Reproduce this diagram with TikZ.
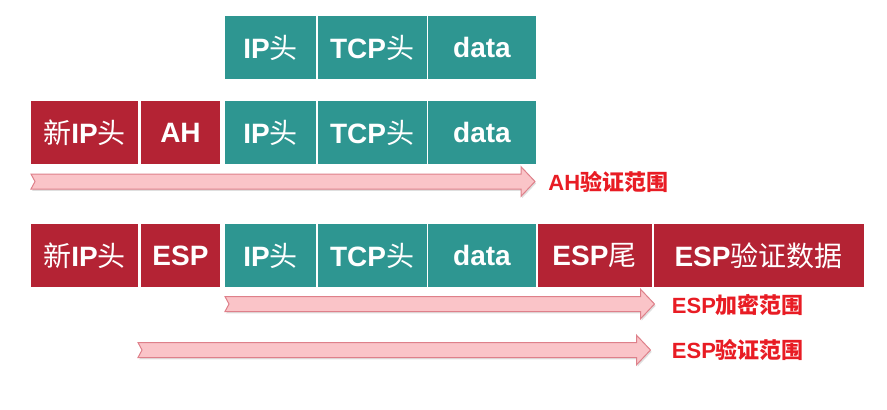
\documentclass[tikz,border=0pt]{standalone}
\usepackage{fontspec}
\setmainfont{Liberation Sans}
\newfontfamily\cjk{Noto Sans CJK SC}
\usepackage{xcolor}
\usetikzlibrary{positioning, calc, shadows}
\definecolor{hdrred}{RGB}{180,35,52}
\definecolor{hdrteal}{RGB}{46,150,145}
\definecolor{rangefill}{RGB}{250,196,200}
\definecolor{rangeedge}{RGB}{222,128,138}
\definecolor{lblred}{RGB}{232,28,36}
\newcommand{\zh}[1]{{\cjk\mdseries #1}}
\tikzstyle{hdr} = [rectangle, minimum height=31.5pt, inner sep=0pt, outer sep=0pt, text=white, font=\fontsize{14}{16}\selectfont\bfseries]
\tikzstyle{redhdr} = [hdr, fill=hdrred]
\tikzstyle{tealhdr} = [hdr, fill=hdrteal]
\tikzstyle{rangearrow} = [fill=rangefill, draw=rangeedge, line width=0.5pt, line join=miter, drop shadow={shadow xshift=0.6pt, shadow yshift=-0.9pt, opacity=0.25}]
\tikzstyle{rangelbl} = [anchor=west, inner sep=0pt, text=lblred, font=\fontsize{11}{13}\selectfont\bfseries]
% notched band with a head, from #1 to #2
\newcommand{\rangeband}[2]{%
  \path[rangearrow] ($(#1)+(0,3.75pt)$) -- ($(#2)+(-7pt,3.75pt)$) -- ($(#2)+(-7pt,7.4pt)$) -- (#2)
    -- ($(#2)+(-7pt,-7.4pt)$) -- ($(#2)+(-7pt,-3.75pt)$) -- ($(#1)+(0,-3.75pt)$) -- ($(#1)+(2pt,0)$) -- cycle;}

\begin{document}
\begin{tikzpicture}
    \useasboundingbox (0,0) rectangle (443.5pt,-204.5pt);
    % AH packet
    \node(newipB)[redhdr, minimum width=53.5pt, anchor=west] at (15.5pt,-66.25pt) {\zh{新}IP\zh{头}};
    \node(ahB)[redhdr, minimum width=39.5pt, right=1.5pt of newipB] {AH};
    \node(ipB)[tealhdr, minimum width=45.5pt, right=2.5pt of ahB] {IP\zh{头}};
    \node(tcpB)[tealhdr, minimum width=54.5pt, right=0.75pt of ipB] {TCP\zh{头}};
    \node(dataB)[tealhdr, minimum width=54pt, right=0.75pt of tcpB] {data};
    % original packet
    \node(ipA)[tealhdr, minimum width=45.5pt, above=11pt of ipB] {IP\zh{头}};
    \node(tcpA)[tealhdr, minimum width=54.5pt, right=0.75pt of ipA] {TCP\zh{头}};
    \node(dataA)[tealhdr, minimum width=54pt, right=0.75pt of tcpA] {data};
    % ESP packet
    \node(newipC)[redhdr, minimum width=53.5pt, below=30pt of newipB] {\zh{新}IP\zh{头}};
    \node(espC)[redhdr, minimum width=39.5pt, right=1.5pt of newipC] {ESP};
    \node(ipC)[tealhdr, minimum width=45.5pt, right=2.5pt of espC] {IP\zh{头}};
    \node(tcpC)[tealhdr, minimum width=54.5pt, right=0.75pt of ipC] {TCP\zh{头}};
    \node(dataC)[tealhdr, minimum width=54pt, right=0.75pt of tcpC] {data};
    \node(trailC)[redhdr, minimum width=57pt, right=0.75pt of dataC] {ESP\zh{尾}};
    \node(authC)[redhdr, minimum width=105pt, right=1pt of trailC] {ESP\zh{验证数据}};
    %
    \coordinate(ahFrom) at ([yshift=-24.5pt]newipB.west);
    \coordinate(ahTo) at ([yshift=-24.5pt, xshift=-0.5pt]dataB.east);
    \coordinate(encFrom) at ([yshift=-24.25pt]ipC.west);
    \coordinate(encTo) at ([yshift=-24.25pt, xshift=1.5pt]trailC.east);
    \coordinate(authFrom) at ([yshift=-47.25pt, xshift=-1.5pt]espC.west);
    \coordinate(authTo) at ([yshift=-47.25pt, xshift=-0.5pt]trailC.east);
    \rangeband{ahFrom}{ahTo}
    \rangeband{encFrom}{encTo}
    \rangeband{authFrom}{authTo}
    \node(ahlbl)[rangelbl, right=6.5pt of ahTo] {AH{\cjk 验证范围}};
    \node(enclbl)[rangelbl, right=8.5pt of encTo, yshift=-0.5pt] {ESP{\cjk 加密范围}};
    \node(authlbl)[rangelbl, right=10.5pt of authTo] {ESP{\cjk 验证范围}};
\end{tikzpicture}
\end{document}
